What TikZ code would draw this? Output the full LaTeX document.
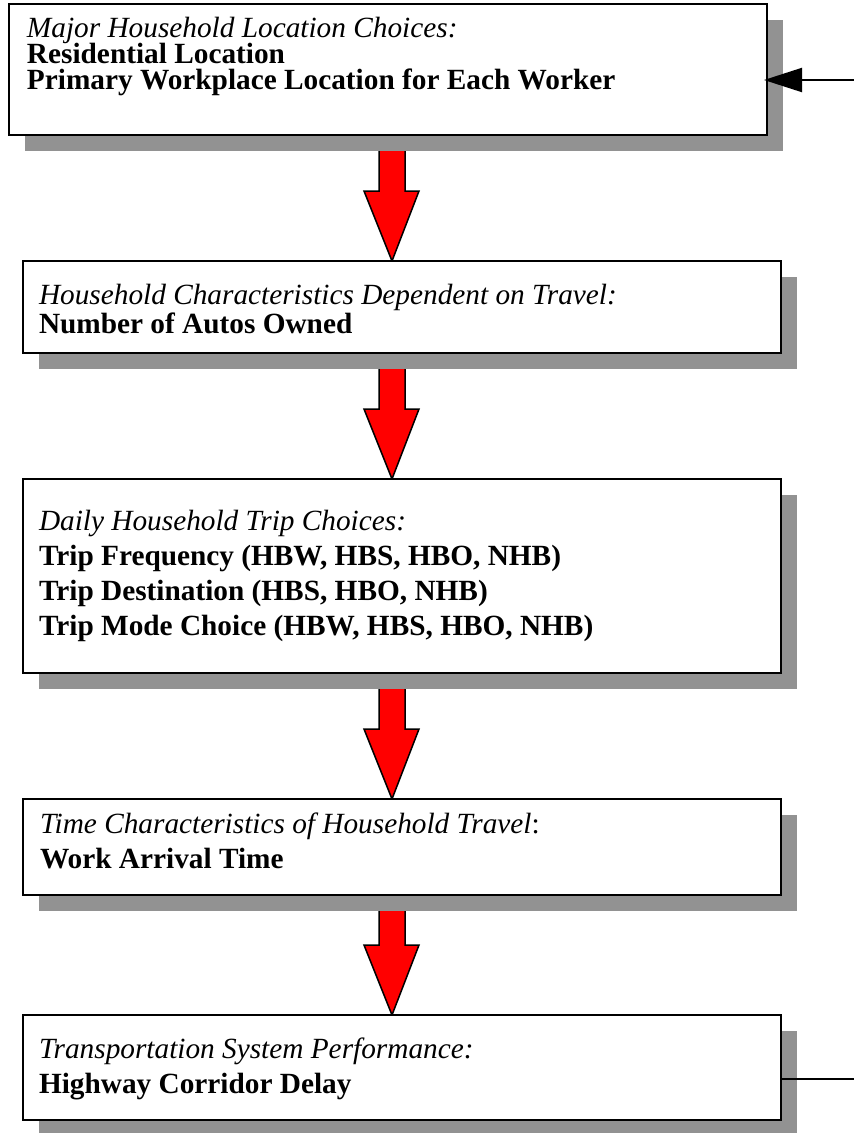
\documentclass[tikz,border=0pt]{standalone}
\usepackage{fontspec}
\setmainfont{Liberation Serif}
\usetikzlibrary{calc,arrows.meta}
\definecolor{shadowgray}{HTML}{929292}
\definecolor{arrowred}{HTML}{FF0000}
\tikzset{
  box/.style={draw=black, line width=2.2pt, fill=white, rectangle, inner sep=0pt, outer sep=0pt, anchor=north west, minimum width=758pt},
  txt/.style={anchor=base west, inner sep=0pt, outer sep=0pt, font=\fontsize{29.3pt}{32pt}\selectfont},
  shadowfill/.style={fill=shadowgray},
  redarrow/.style={fill=arrowred, draw=black, line width=1.5pt, line join=miter},
  feed/.style={draw=black, line width=2pt}
}
\newcommand{\blockarrow}[2]{%
  \path[redarrow] let \p1=(#1.south), \p2=(#2.north) in
    (379pt,\y1) -- (379pt,\y2+70pt) -- (364pt,\y2+70pt) -- (392pt,\y2)
    -- (419pt,\y2+70pt) -- (405pt,\y2+70pt) -- (405pt,\y1);}
\newcommand{\boxshadow}[1]{%
  \fill[shadowfill] ($(#1.south west)+(16,16)$) rectangle ($(#1.north east)+(16,16)$);}
\begin{document}
\begin{tikzpicture}[x={(1pt,0)}, y={(0,-1pt)}]
\fill[white] (0,0) rectangle (854,1133);
\useasboundingbox (0,0) rectangle (854,1133);

% boxes placed first (invisible) to get names
\path node[box, draw=none, fill=none, minimum height=131pt] (b1) at (9,4) {};
\path node[box, draw=none, fill=none, minimum height=92pt] (b2) at (23,261) {};
\path node[box, draw=none, fill=none, minimum height=194pt] (b3) at (23,479) {};
\path node[box, draw=none, fill=none, minimum height=96pt] (b4) at (23,799) {};
\path node[box, draw=none, fill=none, minimum height=105pt] (b5) at (23,1015) {};

% red block arrows
\blockarrow{b1}{b2}
\blockarrow{b2}{b3}
\blockarrow{b3}{b4}
\blockarrow{b4}{b5}

% shadows
\boxshadow{b1}
\boxshadow{b2}
\boxshadow{b3}
\boxshadow{b4}
\boxshadow{b5}

% visible boxes
\node[box, minimum height=131pt] (B1) at (9,4) {};
\node[box, minimum height=92pt] (B2) at (23,261) {};
\node[box, minimum height=194pt] (B3) at (23,479) {};
\node[box, minimum height=96pt] (B4) at (23,799) {};
\node[box, minimum height=105pt] (B5) at (23,1015) {};

% texts
\node[txt] (t11) at (27,37) {\itshape Major Household Location Choices:};
\node[txt] (t12) at (27,63) {\bfseries Residential Location};
\node[txt] (t13) at (27,89) {\bfseries Primary Workplace Location for Each Worker};

\node[txt] (t21) at (39,304) {\itshape Household Characteristics Dependent on Travel:};
\node[txt] (t22) at (39,333) {\bfseries Number of Autos Owned};

\node[txt] (t31) at (39,530) {\itshape Daily Household Trip Choices:};
\node[txt] (t32) at (39,565) {\bfseries Trip Frequency (HBW, HBS, HBO, NHB)};
\node[txt] (t33) at (39,600) {\bfseries Trip Destination (HBS, HBO, NHB)};
\node[txt] (t34) at (39,635) {\bfseries Trip Mode Choice (HBW, HBS, HBO, NHB)};

\node[txt] (t41) at (40,833) {\textit{Time Characteristics of Household Travel}:};
\node[txt] (t42) at (40,868) {\bfseries Work Arrival Time};

\node[txt] (t51) at (39,1058) {\itshape Transportation System Performance:};
\node[txt] (t52) at (39,1093) {\bfseries Highway Corridor Delay};

% feedback connectors
\coordinate (fin) at (854,80);
\coordinate (fout) at (854,1079);
\draw[feed, -{Triangle[length=38pt, width=24pt]}, shorten >=-3pt] (fin) -- (B1.east |- fin);
\draw[feed] (B5.east |- fout) -- (fout);
\end{tikzpicture}
\end{document}
